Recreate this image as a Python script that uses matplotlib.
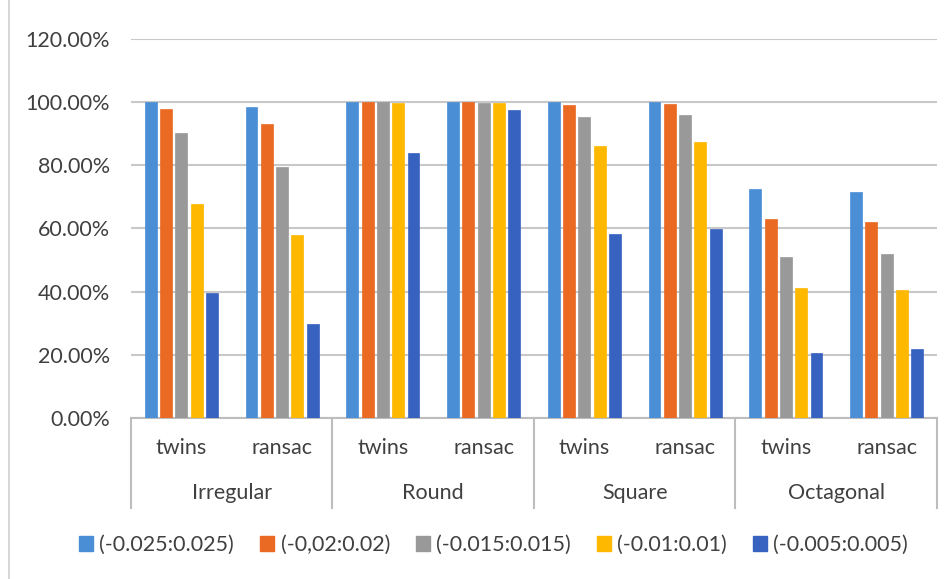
import numpy as np
import matplotlib.pyplot as plt
from matplotlib.lines import Line2D
from matplotlib.patches import Patch

plt.rcParams['font.family'] = ['Lato', 'DejaVu Sans']

# data (values in %)
groups = ['Irregular', 'Round', 'Square', 'Octagonal']
methods = ['twins', 'ransac']
series = ['(-0.025:0.025)', '(-0,02:0.02)', '(-0.015:0.015)', '(-0.01:0.01)', '(-0.005:0.005)']
s1 = [100.0, 98.5, 100.0, 100.0, 99.9, 100.0, 72.4, 71.4]
s2 = [97.7, 93.0, 100.0, 100.0, 99.0, 99.4, 63.0, 62.1]
s3 = [90.2, 79.5, 100.0, 99.8, 95.3, 95.9, 50.9, 51.8]
s4 = [67.9, 57.9, 99.7, 99.8, 86.1, 87.3, 41.1, 40.5]
s5 = [39.6, 29.8, 83.8, 97.5, 58.2, 59.9, 20.5, 21.7]
colors = ['#4a8fd6', '#ea6a24', '#999999', '#ffb800', '#3862c0']
txt = '#404040'
fs = 15.5

fig = plt.figure(figsize=(9.53, 5.79), dpi=100)
ax = fig.add_axes([131 / 953, 1 - 418 / 579, 806 / 953, 379 / 579])

x = np.arange(len(groups) * len(methods))
pitch, w = 0.152, 0.119
for i, (vals, c) in enumerate(zip([s1, s2, s3, s4, s5], colors)):
    ax.bar(x + (i - 2) * pitch, np.array(vals) / 100, width=w, color=c,
           edgecolor=c, linewidth=0.5, zorder=3, label=series[i])

ax.set_xlim(-0.5, 7.5)
ax.set_ylim(0, 1.2)
ax.set_yticks(np.arange(0, 1.21, 0.2))
ax.set_yticklabels(['%.2f%%' % (v * 100) for v in np.arange(0, 1.21, 0.2)],
                   fontsize=fs, color=txt)
ax.tick_params(axis='y', length=0, pad=15)
ax.tick_params(axis='x', length=0, labelbottom=False)
ax.grid(axis='y', color='#c8c8c8', linewidth=1.5, zorder=0)
for s in ['top', 'right', 'left']:
    ax.spines[s].set_visible(False)
ax.spines['bottom'].set_color('#bdbdbd')
ax.spines['bottom'].set_linewidth(1.5)

# multi-level category axis
tr = ax.get_xaxis_transform()
for k in range(len(x)):
    ax.text(x[k], -0.079, methods[k % 2], transform=tr, ha='center', va='center',
            fontsize=fs, color=txt)
for g, name in enumerate(groups):
    ax.text(2 * g + 0.5, -0.198, name, transform=tr, ha='center', va='center',
            fontsize=fs, color=txt)
for b in np.arange(-0.5, 7.6, 2):
    ax.plot([b, b], [0, -0.2375], transform=tr, color='#bdbdbd', lw=1.5, clip_on=False)

# left chart border
fig.add_artist(Line2D([9 / 953, 9 / 953], [0, 1], color='#d0d0d0', lw=1.2))

handles = [Patch(facecolor=c, edgecolor=c) for c in colors]
fig.legend(handles, series, loc='center', bbox_to_anchor=(493.5 / 953, 1 - 545 / 579),
           ncol=5, frameon=False, fontsize=fs, labelcolor=txt,
           handlelength=0.65, handleheight=0.65, handletextpad=0.3, columnspacing=1.2)

fig.savefig('out.png', dpi=100)
